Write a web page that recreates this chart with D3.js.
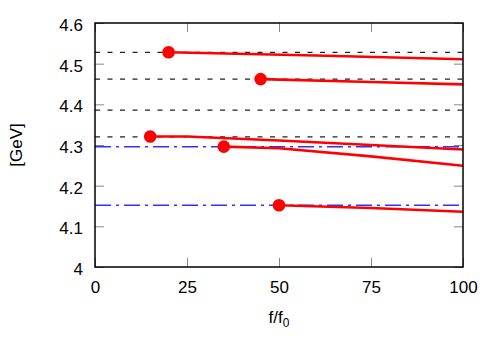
<!DOCTYPE html>
<html lang="en">
<head>
    <meta charset="UTF-8">
    <title>mass vs f/f0</title>
    <script src="https://cdn.jsdelivr.net/npm/d3@7"></script>
    <style>
        body { margin: 0; background: #fff; }
        text { font-family: "Liberation Sans", Arial, sans-serif; }
    </style>
</head>
<body>
</body>
<script>
    // values
    const xTicks = [0, 25, 50, 75, 100];
    const yTicks = [4, 4.1, 4.2, 4.3, 4.4, 4.5, 4.6];
    const blackLevels = [4.528, 4.462, 4.386, 4.320]; // black dashed lines
    const blueLevels = [4.296, 4.152];                // blue dash-dot lines

    const curve1 = [[20, 4.528], [60, 4.520], [100, 4.511]];
    const curve2 = [[45, 4.462], [75, 4.455], [100, 4.449]];
    const curve3 = [[15, 4.321], [25, 4.321], [50, 4.311], [75, 4.300], [100, 4.289]];
    const curve4 = [[35, 4.296], [50, 4.292], [75, 4.272], [100, 4.249]];
    const curve5 = [[50, 4.152], [75, 4.145], [100, 4.136]];
    const curves = [curve1, curve2, curve3, curve4, curve5];

    const width = 498;
    const height = 349;
    const margin = {top: 23, right: 35, bottom: 82, left: 95};

    const svg = d3.select("body")
        .append("svg")
        .attr("width", width)
        .attr("height", height);

    const x = d3.scaleLinear().domain([0, 100]).range([margin.left, width - margin.right]);
    const y = d3.scaleLinear().domain([4, 4.6]).range([height - margin.bottom, margin.top]);

    svg.append("clipPath").attr("id", "clip")
        .append("rect")
        .attr("x", x(0)).attr("y", y(4.6))
        .attr("width", x(100) - x(0)).attr("height", y(4) - y(4.6));

    //Axes with inward ticks
    const xAxis = svg.append("g")
        .attr("transform", `translate(0,${y(4)})`)
        .call(d3.axisBottom(x).tickValues(xTicks).tickSize(-9).tickPadding(14).tickSizeOuter(0));
    const xTop = svg.append("g")
        .attr("transform", `translate(0,${y(4.6)})`)
        .call(d3.axisTop(x).tickValues(xTicks).tickSize(-9).tickFormat("").tickSizeOuter(0));
    const yAxis = svg.append("g")
        .attr("transform", `translate(${x(0)},0)`)
        .call(d3.axisLeft(y).tickValues(yTicks).tickSize(-9).tickPadding(12).tickSizeOuter(0)
            .tickFormat(d => d === 4 ? "4" : d3.format(".1f")(d)));
    const yRight = svg.append("g")
        .attr("transform", `translate(${x(100)},0)`)
        .call(d3.axisRight(y).tickValues(yTicks).tickSize(-9).tickFormat("").tickSizeOuter(0));

    [xAxis, xTop, yAxis, yRight].forEach(g => {
        g.select(".domain").remove();
        g.selectAll(".tick line").attr("stroke", "#888").attr("stroke-width", 1);
        g.selectAll(".tick text").attr("fill", "#000").attr("font-size", 17)
            .attr("font-family", "Liberation Sans, Arial, sans-serif");
    });
    yAxis.selectAll(".tick text").attr("dy", "0.44em");

    const plot = svg.append("g").attr("clip-path", "url(#clip)");

    // reference levels
    plot.selectAll(".black-level")
        .data(blackLevels)
        .join("line")
        .attr("x1", x(0)).attr("x2", x(100))
        .attr("y1", d => y(d)).attr("y2", d => y(d))
        .attr("stroke", "#222")
        .attr("stroke-width", 1.3)
        .attr("stroke-dasharray", "5,7.5");

    plot.selectAll(".blue-level")
        .data(blueLevels)
        .join("line")
        .attr("x1", x(0)).attr("x2", x(100))
        .attr("y1", d => y(d)).attr("y2", d => y(d))
        .attr("stroke", "#3030ff")
        .attr("stroke-width", 1.5)
        .attr("stroke-dasharray", "16,5,3,5");

    const line = d3.line().x(d => x(d[0])).y(d => y(d[1]));

    plot.selectAll(".curve")
        .data(curves)
        .join("path")
        .attr("fill", "none")
        .attr("stroke", "#ff0000")
        .attr("stroke-width", 2.6)
        .attr("stroke-linejoin", "round")
        .attr("d", line);

    svg.selectAll(".start")
        .data(curves.map(c => c[0]))
        .join("circle")
        .attr("cx", d => x(d[0]))
        .attr("cy", d => y(d[1]))
        .attr("r", 6.3)
        .attr("fill", "#ff0000");

    //Frame
    svg.append("rect")
        .attr("x", x(0)).attr("y", y(4.6))
        .attr("width", x(100) - x(0)).attr("height", y(4) - y(4.6))
        .attr("fill", "none")
        .attr("stroke", "#000")
        .attr("stroke-width", 1.5);

    // axis titles
    const xl = svg.append("text")
        .attr("x", (x(0) + x(100)) / 2)
        .attr("y", 323)
        .attr("text-anchor", "middle")
        .attr("font-size", 17);
    xl.append("tspan").text("f/f");
    xl.append("tspan").attr("font-size", 12).attr("dy", 4).text("0");

    svg.append("text")
        .attr("transform", `translate(22,${(y(4) + y(4.6)) / 2}) rotate(-90)`)
        .attr("text-anchor", "middle")
        .attr("font-size", 17)
        .text("[GeV]");
</script>
</html>
